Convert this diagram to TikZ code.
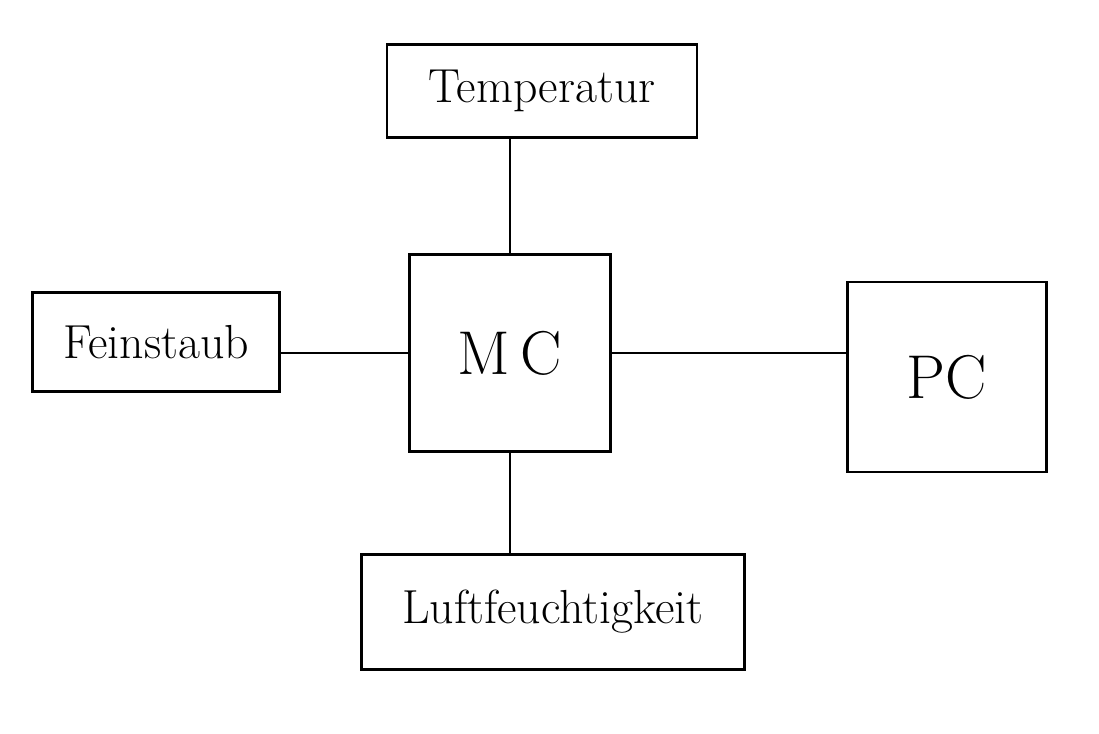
\documentclass[tikz,border=0pt]{standalone}
\usepackage{tikz}
\usetikzlibrary{calc,positioning}

\begin{document}
\begin{tikzpicture}[
	block/.style={draw, line width=1.6pt, inner sep=0pt, font=\fontsize{34}{40}\selectfont},
	wire/.style={line width=1.6pt}
	]
	\useasboundingbox (0,0) rectangle (27.475,-18.325);

	\node [block, minimum width=5.025cm, minimum height=4.925cm, font=\fontsize{44}{50}\selectfont] (mc) at (12.75,-8.825) {M\,C};
	\node [block, minimum width=7.75cm, minimum height=2.325cm] (temp) at (13.55,-2.275) {Temperatur};
	\node [block, minimum width=6.175cm, minimum height=2.475cm] (fein) at (3.9,-8.55) {Feinstaub};
	\node [block, minimum width=4.975cm, minimum height=4.75cm, font=\fontsize{44}{50}\selectfont] (pc) at (23.675,-9.425) {PC};
	\node [block, minimum width=9.575cm, minimum height=2.875cm] (luft) at (13.825,-15.3) {Luftfeuchtigkeit};

	% connections to the MC
	\draw [wire] (mc.north) -- (mc.north |- temp.south);
	\draw [wire] (mc.west) -- (mc.west -| fein.east);
	\draw [wire] (mc.east) -- (mc.east -| pc.west);
	\draw [wire] (mc.south) -- (mc.south |- luft.north);
\end{tikzpicture}
\end{document}
